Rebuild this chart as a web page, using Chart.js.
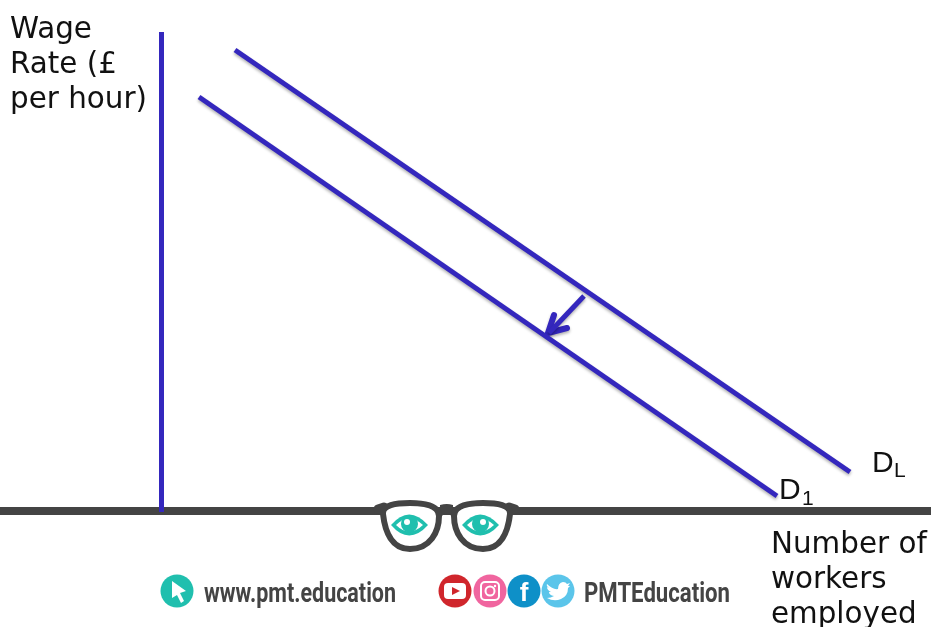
<!DOCTYPE html>
<html>
<head>
<meta charset="utf-8">
<title>Fall in demand for labour</title>
<script src="https://cdn.jsdelivr.net/npm/chart.js@4"></script>
<style>
  html, body { margin: 0; padding: 0; background: #fff; overflow: hidden; }
  #wrap { position: relative; width: 931px; height: 627px; }
  canvas { position: absolute; left: 0; top: 0; }
  #overlay { position: absolute; left: 0; top: 0; }
  .axisText { font: 29.4px "DejaVu Sans", sans-serif; fill: #111; }
  .curveText { font: 30px "Liberation Sans", sans-serif; fill: #111; }
  .curveSub { font: 21px "Liberation Sans", sans-serif; fill: #111; }
  .brand { font: bold 27px Roboto, "Liberation Sans", sans-serif; fill: #444; }
</style>
</head>
<body>
<div id="wrap">
  <canvas id="chart" width="931" height="627"></canvas>
  <svg id="overlay" width="931" height="627" viewBox="0 0 931 627">
    <g id="labels"></g>

    <!-- glasses logo on the x axis -->
    <g fill="#fff" stroke="#444" stroke-width="6">
      <path d="M378,509 L384,507 M515,509 L509,507" stroke-width="9" stroke-linecap="round"/>
      <path d="M440,505 Q447,503 453,505 L453,518 Q447,509 440,518 Z" fill="#444" stroke="none"/>
      <path d="M383,514 C382,505 396,503 410,503 C426,503 439,506 439,516 C439,532 430,549 410,549 C392,549 385,532 383,514 Z"/>
      <path d="M510,514 C511,505 497,503 483,503 C467,503 454,506 454,516 C454,532 463,549 483,549 C501,549 508,532 510,514 Z"/>
    </g>
    <g>
      <path d="M391,525 Q409,504 428,525 Q409,546 391,525 Z" fill="#20bfae"/>
      <path d="M396,525 Q409,512 423,525 Q409,538 396,525 Z" fill="#fff"/>
      <circle cx="409.5" cy="524" r="8.5" fill="#20bfae"/>
      <circle cx="407" cy="522" r="3" fill="#fff"/>
      <path d="M462,525 Q480,504 499,525 Q480,546 462,525 Z" fill="#20bfae"/>
      <path d="M467,525 Q480,512 494,525 Q480,538 467,525 Z" fill="#fff"/>
      <circle cx="480.5" cy="524" r="8.5" fill="#20bfae"/>
      <circle cx="483" cy="522" r="3" fill="#fff"/>
    </g>

    <!-- footer -->
    <circle cx="177" cy="591" r="16.5" fill="#20bfae"/>
    <path d="M172,581 L186,591 L180,593 L184,601 L181,603 L177,595 L172,598 Z" fill="#fff"/>
    <text id="siteText" class="brand" x="204" y="602" textLength="192" lengthAdjust="spacingAndGlyphs"></text>

    <circle cx="455" cy="591" r="16.5" fill="#d0262c"/>
    <rect x="444" y="583" width="22" height="16" rx="4" fill="#fff"/>
    <path d="M452,587 L460,591 L452,595 Z" fill="#d0262c"/>

    <circle cx="490" cy="591" r="16.5" fill="#f0659f"/>
    <rect x="481" y="582" width="18" height="18" rx="4" fill="none" stroke="#fff" stroke-width="2"/>
    <circle cx="490" cy="591" r="4.5" fill="none" stroke="#fff" stroke-width="2"/>
    <circle cx="495" cy="586" r="1.2" fill="#fff"/>

    <circle cx="524" cy="591" r="16.5" fill="#0e90c8"/>
    <text x="524" y="601" text-anchor="middle" style="font:bold 26px 'Liberation Sans',sans-serif" fill="#fff">f</text>

    <circle cx="558" cy="591" r="16.5" fill="#5bc5ea"/>
    <path d="M547,584 Q553,590 558,589 Q558,583 563,582 Q566,582 567,584 L570,583 L568,586 L570,586 L568,588 Q568,596 561,599 Q554,602 547,598 Q551,598 554,596 Q549,595 549,592 L551,592 Q547,590 547,587 L549,588 Q546,586 547,584 Z" fill="#fff"/>
    <text id="handleText" class="brand" x="584" y="602" textLength="146" lengthAdjust="spacingAndGlyphs"></text>
  </svg>
</div>

<script>
// axis text
const yAxisLines = ['Wage', 'Rate (£', 'per hour)'];
const xAxisLines = ['Number of', 'workers', 'employed'];
const siteName = 'www.pmt.education';
const handleName = 'PMTEducation';

// curves (workers, wage)
const demandOrigX = [75, 690];
const demandOrigY = [461, 39];
const demandNewX = [39, 617];
const demandNewY = [414, 15];

// shift arrow
const arrowShaftX = [424, 389];
const arrowShaftY = [215, 178];
const arrowHeadX = [394, 388, 407];
const arrowHeadY = [196, 178, 183];

const zip = (xs, ys) => xs.map((x, i) => ({ x, y: ys[i] }));
const blue = '#3427bd';

// the original lines have a soft drop shadow
const softShadow = {
  id: 'softShadow',
  beforeDatasetsDraw(chart) {
    const ctx = chart.ctx;
    ctx.save();
    ctx.shadowColor = 'rgba(0,0,0,0.3)';
    ctx.shadowBlur = 3;
    ctx.shadowOffsetY = 2;
  },
  afterDatasetsDraw(chart) {
    chart.ctx.restore();
  },
};

new Chart(document.getElementById('chart').getContext('2d'), {
  type: 'line',
  data: {
    datasets: [
      { label: 'DL', data: zip(demandOrigX, demandOrigY), borderWidth: 5 },
      { label: 'D1', data: zip(demandNewX, demandNewY), borderWidth: 5 },
      { label: 'shift', data: zip(arrowShaftX, arrowShaftY), borderWidth: 5 },
      { label: 'head', data: zip(arrowHeadX, arrowHeadY), borderWidth: 6, borderCapStyle: 'round', borderJoinStyle: 'round' },
    ].map(d => ({ borderColor: blue, pointRadius: 0, tension: 0, ...d })),
  },
  plugins: [softShadow],
  options: {
    responsive: false,
    animation: false,
    layout: { padding: { top: 34, bottom: 108, left: 0, right: 0 } },
    plugins: { legend: { display: false }, tooltip: { enabled: false } },
    scales: {
      x: {
        type: 'linear',
        min: -160,
        max: 771,
        grid: { display: false },
        ticks: { display: false },
        border: { color: '#444', width: 8 },
      },
      y: {
        type: 'linear',
        position: { x: 1.5 },
        min: 0,
        max: 477,
        grid: { display: false },
        ticks: { display: false },
        border: { color: blue, width: 5 },
      },
    },
  },
});

// text goes in the svg on top of the chart
const labels = document.getElementById('labels');
function addText(str, x, y, cls) {
  const t = document.createElementNS('http://www.w3.org/2000/svg', 'text');
  t.setAttribute('x', x);
  t.setAttribute('y', y);
  t.setAttribute('class', cls);
  t.textContent = str;
  labels.appendChild(t);
}
yAxisLines.forEach((s, i) => addText(s, 10, 38 + i * 35, 'axisText'));
xAxisLines.forEach((s, i) => addText(s, 771, 553 + i * 35, 'axisText'));
addText('D', 872, 472, 'curveText');
addText('L', 894, 477, 'curveSub');
addText('D', 779, 499, 'curveText');
addText('1', 802, 505, 'curveSub');
document.getElementById('siteText').textContent = siteName;
document.getElementById('handleText').textContent = handleName;
</script>
</body>
</html>
